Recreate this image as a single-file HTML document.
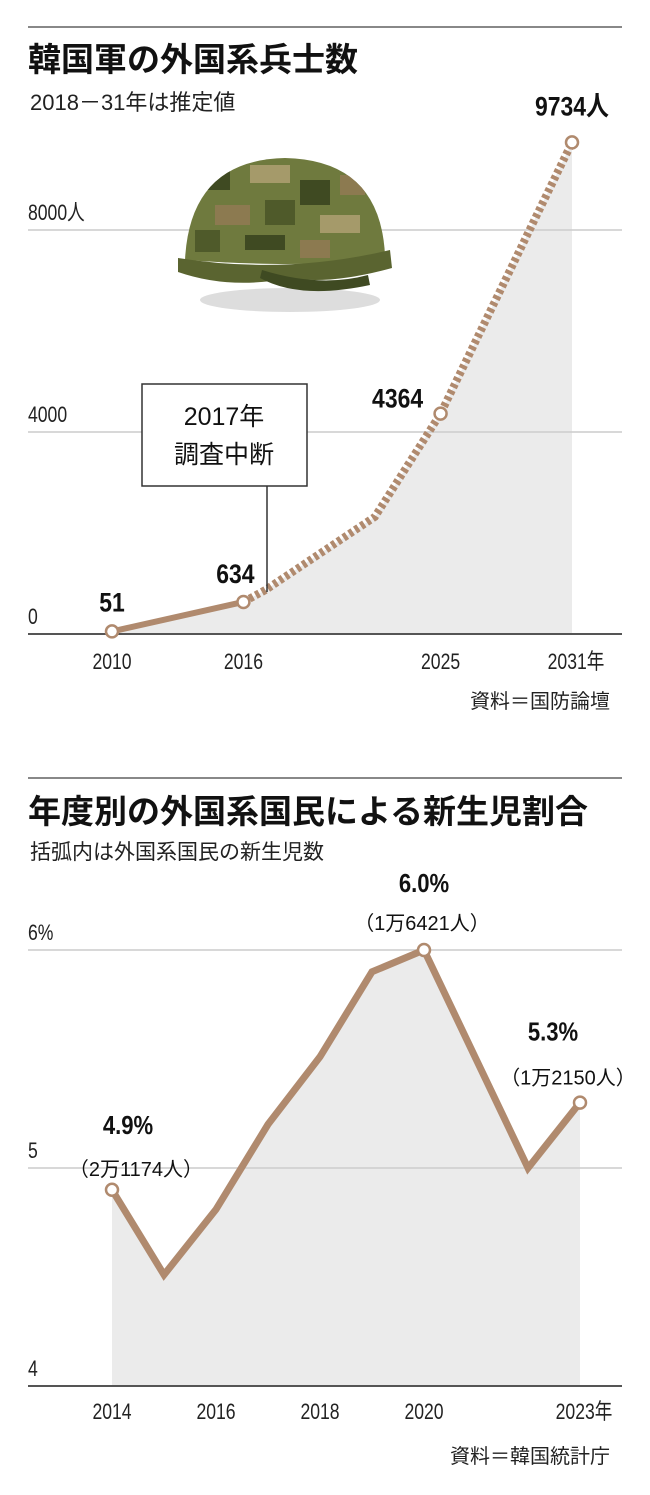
<!DOCTYPE html>
<html><head><meta charset="utf-8"><style>
body{margin:0;background:#fff;}
svg text{font-family:"Liberation Sans","Noto Sans CJK JP",sans-serif;}
</style></head><body>
<svg id="s" width="650" height="1490" viewBox="0 0 650 1490" xmlns="http://www.w3.org/2000/svg">
<defs>
<clipPath id="hc"><path d="M185 260 Q190 160 285 158 Q380 160 385 255 Q330 270 185 260Z"/></clipPath>
</defs>
<g id="c1">
<line x1="28" y1="27" x2="622" y2="27" stroke="#888" stroke-width="2"/>
<text x="28" y="71" font-size="33" font-weight="bold" fill="#111">韓国軍の外国系兵士数</text>
<text x="30" y="110" font-size="22" fill="#222">2018－31年は推定値</text>
<g id="g1"></g>
<g>
<ellipse cx="290" cy="300" rx="90" ry="12" fill="#ddd"/>
<g clip-path="url(#hc)">
<rect x="180" y="150" width="210" height="120" fill="#6f7a3e"/>
<rect x="200" y="170" width="30" height="20" fill="#3f4a22"/><rect x="250" y="165" width="40" height="18" fill="#a59a6a"/>
<rect x="300" y="180" width="30" height="25" fill="#3f4a22"/><rect x="340" y="175" width="25" height="20" fill="#8c7a50"/>
<rect x="215" y="205" width="35" height="20" fill="#8c7a50"/><rect x="265" y="200" width="30" height="25" fill="#4f5a2a"/>
<rect x="320" y="215" width="40" height="18" fill="#a59a6a"/><rect x="195" y="230" width="25" height="22" fill="#4f5a2a"/>
<rect x="245" y="235" width="40" height="15" fill="#3f4a22"/><rect x="300" y="240" width="30" height="18" fill="#8c7a50"/>
</g>
<path d="M178 258 Q285 275 390 250 L392 268 Q330 285 290 278 Q230 290 178 272Z" fill="#5a6430"/>
<path d="M260 278 Q300 300 370 285 L368 275 Q320 288 262 270Z" fill="#3f4a22"/>
</g>
<g>
<rect x="142" y="384" width="165" height="102" fill="#fff" stroke="#333" stroke-width="1.5"/>
<line x1="267" y1="486" x2="267" y2="592" stroke="#333" stroke-width="1.5"/>
<text x="224" y="425" font-size="25" text-anchor="middle" fill="#111">2017年</text>
<text x="224" y="463" font-size="25" text-anchor="middle" fill="#111">調査中断</text>
</g>
<text x="610" y="708" font-size="20" text-anchor="end" fill="#222">資料＝国防論壇</text>
</g>
<g id="c2">
<line x1="28" y1="778" x2="622" y2="778" stroke="#888" stroke-width="2"/>
<text x="28" y="823" font-size="33" font-weight="bold" fill="#111">年度別の外国系国民による新生児割合</text>
<text x="30" y="859" font-size="21" fill="#222">括弧内は外国系国民の新生児数</text>
<g id="g2"></g>
<text x="610" y="1463" font-size="20" text-anchor="end" fill="#222">資料＝韓国統計庁</text>
</g>
</svg>
<script>
const NS="http://www.w3.org/2000/svg";
function mk(p,t,a,txt){const e=document.createElementNS(NS,t);for(const k in a)e.setAttribute(k,a[k]);if(txt!==undefined)e.textContent=txt;p.appendChild(e);return e;}
function narrow(e,s){const x=e.getAttribute('x'),y=e.getAttribute('y');e.setAttribute('x',0);e.setAttribute('y',0);e.setAttribute('transform','translate('+x+','+y+') scale('+(s||0.8)+',1)');return e;}
const BROWN="#b08a6e";
// chart 1 data
const c1SolidYears=[2010,2016];
const c1SolidValues=[51,634];
const c1EstYears=[2016,2017,2022,2025,2031];
const c1EstValues=[634,870,2320,4364,9734];
const c1YTicks=[0,4000,8000];
const c1YTickLabels=["0","4000","8000人"];
const c1XTicks=[2010,2016,2025,2031];
const c1XTickLabels=["2010","2016","2025","2031年"];
const c1LabelYears=[2010,2016,2025,2031];
const c1LabelTexts=["51","634","4364","9734人"];
// chart 2 data
const c2Years=[2014,2015,2016,2017,2018,2019,2020,2021,2022,2023];
const c2Values=[4.9,4.51,4.81,5.2,5.51,5.9,6.0,5.5,5.0,5.3];
const c2YTicks=[4,5,6];
const c2YTickLabels=["4","5","6%"];
const c2XTicks=[2014,2016,2018,2020,2023];
const c2XTickLabels=["2014","2016","2018","2020","2023年"];
const c2LabelYears=[2014,2020,2023];
const c2LabelPct=["4.9%","6.0%","5.3%"];
const c2LabelCnt=["（2万1174人）","（1万6421人）","（1万2150人）"];

(function(){
const g=document.getElementById('g1');
const x=y=>112+(y-2010)*(460/21);
const y=v=>634-v*(202/4000);
const allY=c1SolidYears.concat(c1EstYears.slice(1)),allV=c1SolidValues.concat(c1EstValues.slice(1));
let d="M"+x(allY[0])+" 634";allY.forEach((a,i)=>d+=" L"+x(a)+" "+y(allV[i]));d+=" L"+x(allY[allY.length-1])+" 634Z";
const ar=mk(g,'path',{d:d,fill:"#ebebeb"});


c1YTicks.forEach((t,i)=>{
 const l=mk(g,'line',{x1:28,x2:622,y1:y(t),y2:y(t),stroke:t===0?"#555":"#ccc","stroke-width":t===0?2:1.5});
 
 
 const tx=narrow(mk(g,'text',{x:28,y:y(t)-10,"font-size":22,fill:"#222"},c1YTickLabels[i]));
 
 
});
c1XTicks.forEach((t,i)=>{
 const tx=narrow(mk(g,'text',{x:x(t)+(i===3?4:0),y:669,"font-size":22,fill:"#222","text-anchor":"middle"},c1XTickLabels[i]));
 
 
});
const ep=mk(g,'polyline',{points:c1EstYears.map((a,i)=>x(a)+","+y(c1EstValues[i])).join(" "),fill:"none",stroke:BROWN,"stroke-width":8,"stroke-dasharray":"4 3"});


const sp=mk(g,'polyline',{points:c1SolidYears.map((a,i)=>x(a)+","+y(c1SolidValues[i])).join(" "),fill:"none",stroke:BROWN,"stroke-width":6});


const offs=[[0,-20],[-8,-19],[-43,-6],[0,-27]];
c1LabelYears.forEach((a,i)=>{
 const k=allY.indexOf(a),v=allV[k];
 const c=mk(g,'circle',{cx:x(a),cy:y(v),r:6,fill:"#fff",stroke:BROWN,"stroke-width":2.5});
 
 
 const tx=narrow(mk(g,'text',{x:x(a)+offs[i][0],y:y(v)+offs[i][1],"font-size":27,"font-weight":"bold",fill:"#111","text-anchor":"middle"},c1LabelTexts[i]),0.85);
 
 
});
})();

(function(){
const g=document.getElementById('g2');
const x=a=>112+(a-2014)*(468/9);
const y=v=>1386-(v-4)*218;
let d="M"+x(c2Years[0])+" 1386";c2Years.forEach((a,i)=>d+=" L"+x(a)+" "+y(c2Values[i]));d+=" L"+x(c2Years[c2Years.length-1])+" 1386Z";
const ar=mk(g,'path',{d:d,fill:"#ebebeb"});


c2YTicks.forEach((t,i)=>{
 const l=mk(g,'line',{x1:28,x2:622,y1:y(t),y2:y(t),stroke:t===4?"#555":"#ccc","stroke-width":t===4?2:1.5});
 
 
 const tx=narrow(mk(g,'text',{x:28,y:y(t)-10,"font-size":22,fill:"#222"},c2YTickLabels[i]));
 
 
});
c2XTicks.forEach((t,i)=>{
 const tx=narrow(mk(g,'text',{x:x(t)+(i===4?4:0),y:1419,"font-size":22,fill:"#222","text-anchor":"middle"},c2XTickLabels[i]));
 
 
});
const p=mk(g,'polyline',{points:c2Years.map((a,i)=>x(a)+","+y(c2Values[i])).join(" "),fill:"none",stroke:BROWN,"stroke-width":7,"stroke-linejoin":"miter"});


const offs=[[16,-56,24,-14],[0,-58,-2,-20],[-27,-62,-12,-18]];
c2LabelYears.forEach((a,i)=>{
 const v=c2Values[c2Years.indexOf(a)];
 const c=mk(g,'circle',{cx:x(a),cy:y(v),r:6,fill:"#fff",stroke:BROWN,"stroke-width":2.5});
 
 
 const t1=narrow(mk(g,'text',{x:x(a)+offs[i][0],y:y(v)+offs[i][1],"font-size":26,"font-weight":"bold",fill:"#111","text-anchor":"middle"},c2LabelPct[i]),0.85);
 
 
 const t2=mk(g,'text',{x:x(a)+offs[i][2],y:y(v)+offs[i][3],"font-size":20,fill:"#111","text-anchor":"middle"},c2LabelCnt[i]);
 
 
});
})();
</script>
</body></html>
